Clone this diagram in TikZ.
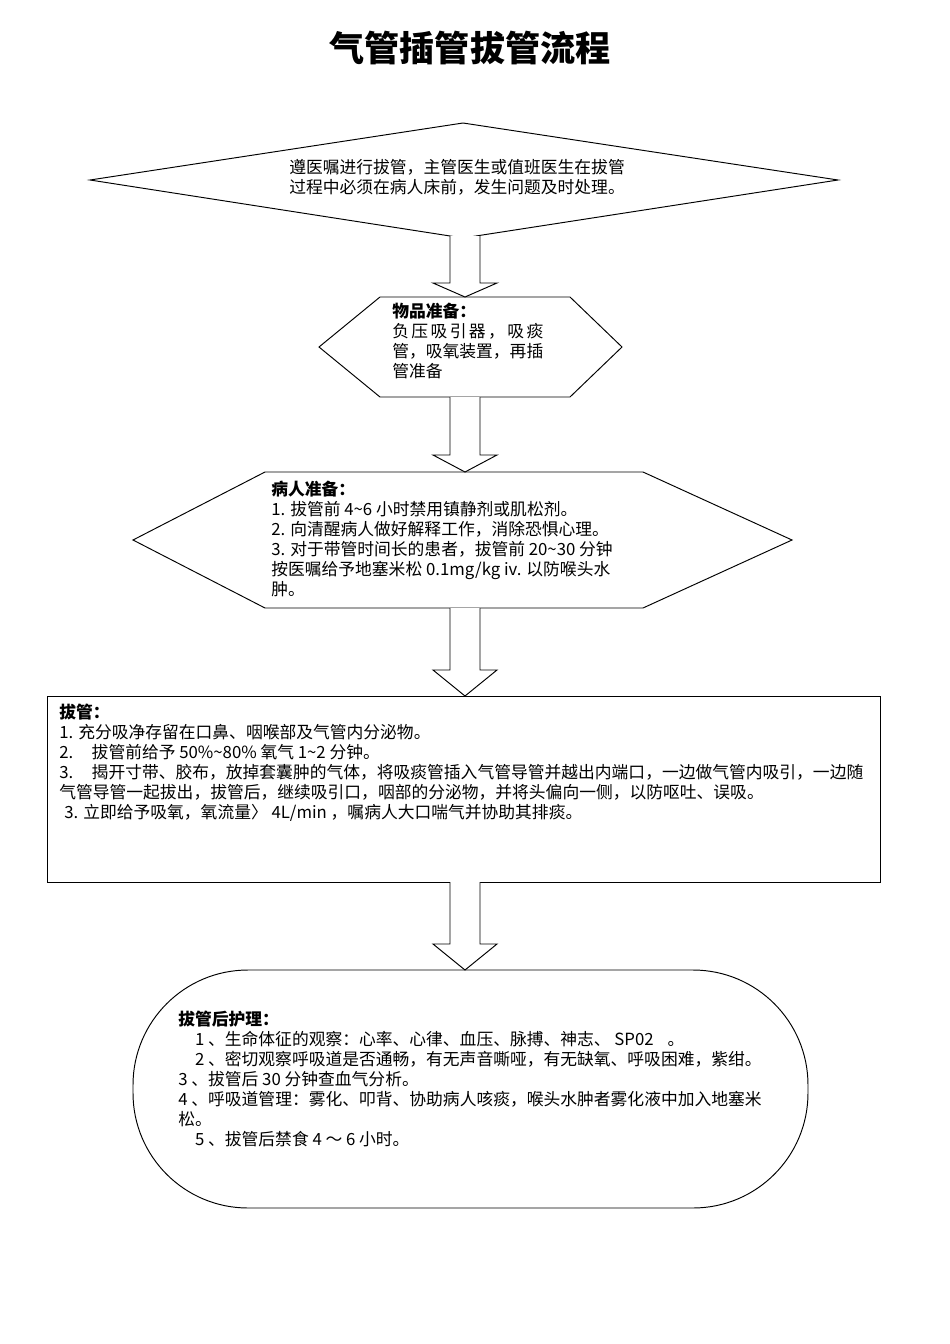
\documentclass[tikz,border=0pt]{standalone}
\usepackage{fontspec}
\newfontfamily\cjk{Noto Sans CJK SC}
\usetikzlibrary{calc}
\usetikzlibrary{positioning}

\tikzset{
	shapeline/.style={line width=0.6pt,fill=white},
	txt/.style={anchor=north west,inner sep=0pt,align=left,font=\cjk\fontsize{10.5}{12.5}\selectfont},
}
% hollow block arrow: from, to, head length
\newcommand{\blockarr}[3]{%
	\draw[shapeline] ($(#1)+(-15,0)$) -- ($(#2)+(-15,-#3)$) -- ($(#2)+(-32,-#3)$) -- (#2)
		-- ($(#2)+(32,-#3)$) -- ($(#2)+(15,-#3)$) -- ($(#1)+(15,0)$);
}

\begin{document}
\begin{tikzpicture}[x=0.626pt,y=-0.626pt]
	\useasboundingbox[fill=white] (0,0) rectangle (950,1344);
	\node[font=\cjk\bfseries\fontsize{22}{26}\selectfont] (title) at (470,48) {气管插管拔管流程};
	% order of doctor
	\draw[shapeline] (90,180)--(463,123)--(838,180)--(463,238)--cycle;
	\coordinate (order-s) at (465,236);
	\node[txt] (order) at (289,159) {遵医嘱进行拔管，主管医生或值班医生在拔管\\过程中必须在病人床前，发生问题及时处理。};
	% supplies
	\draw[shapeline] (319,347)--(380,297)--(570,297)--(622,347)--(570,397)--(380,397)--cycle;
	\coordinate (supply-n) at (465,297);
	\coordinate (supply-s) at (465,397);
	\node[txt] (supply) at (392,303) {{\bfseries 物品准备：}\\
		\makebox[9em][l]{负\hfill 压\hfill 吸\hfill 引\hfill 器\hfill ，\hfill 吸\hfill 痰}\\
		管，吸氧装置，再插\\管准备};
	% patient
	\draw[shapeline] (133,540)--(265,472)--(643,472)--(792,540)--(643,608)--(265,608)--cycle;
	\coordinate (patient-n) at (465,472);
	\coordinate (patient-s) at (465,608);
	\node[txt] (patient) at (271,481) {{\bfseries 病人准备：}\\
		1. 拔管前 4\textasciitilde 6 小时禁用镇静剂或肌松剂。\\
		2. 向清醒病人做好解释工作，消除恐惧心理。\\
		3. 对于带管时间长的患者，拔管前 20\textasciitilde 30 分钟\\
		按医嘱给予地塞米松 0.1mg/kg iv. 以防喉头水\\
		肿。};
	% extubation
	\draw[shapeline] (47,696) rectangle (880,882);
	\coordinate (extub-n) at (465,696);
	\coordinate (extub-s) at (465,882);
	\node[txt] (extub) at (59,704) {{\bfseries 拔管：}\\
		1. 充分吸净存留在口鼻、咽喉部及气管内分泌物。\\
		2.\hspace{1.1em}拔管前给予 50\%\textasciitilde 80\% 氧气 1\textasciitilde 2 分钟。\\
		3.\hspace{1.1em}揭开寸带、胶布，放掉套囊肿的气体，将吸痰管插入气管导管并越出内端口，一边做气管内吸引，一边随\\
		气管导管一起拔出，拔管后，继续吸引口，咽部的分泌物，并将头偏向一侧，以防呕吐、误吸。\\
		\hspace{0.3em}3. 立即给予吸氧，氧流量〉 4L/min ，嘱病人大口喘气并协助其排痰。};
	% after care
	\draw[shapeline,rounded corners=72pt] (133,970) rectangle (808,1208);
	\coordinate (care-n) at (465,970);
	\node[txt] (care) at (178,1011) {{\bfseries 拔管后护理：}\\
		\hspace{1em}1 、生命体征的观察：心率、心律、血压、脉搏、神志、 SP02 \hspace{0.6em}。\\
		\hspace{1em}2 、密切观察呼吸道是否通畅，有无声音嘶哑，有无缺氧、呼吸困难，紫绀。\\
		3 、拔管后 30 分钟查血气分析。\\
		4 、呼吸道管理：雾化、叩背、协助病人咳痰，喉头水肿者雾化液中加入地塞米\\
		松。\\
		\hspace{1em}5 、拔管后禁食 4 ～ 6 小时。};
	% arrows
	\blockarr{order-s}{supply-n}{14}
	\blockarr{supply-s}{patient-n}{17}
	\blockarr{patient-s}{extub-n}{26}
	\blockarr{extub-s}{care-n}{26}
\end{tikzpicture}
\end{document}
